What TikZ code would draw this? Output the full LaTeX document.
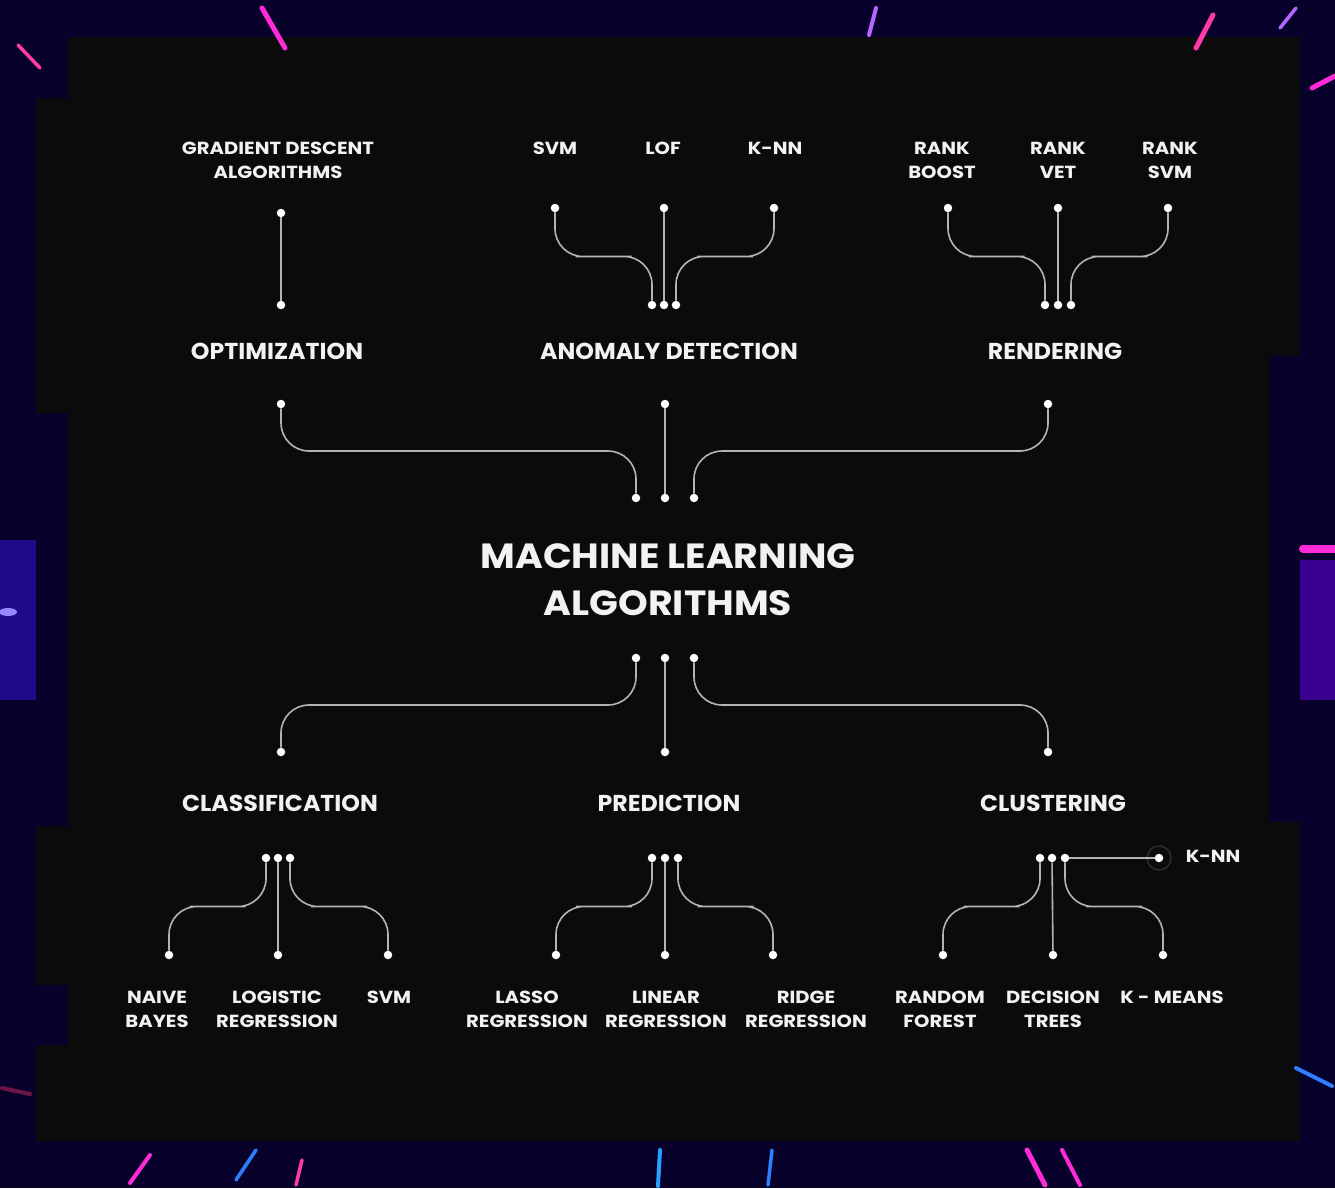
\documentclass[tikz,border=0pt]{standalone}
\usepackage{fontspec}
\setmainfont{Poppins}
\newfontfamily\widefont{Poppins}[FakeStretch=1.12]
\newfontfamily\secfont{Poppins}[FakeStretch=1.03]
\newfontfamily\titlefont{Poppins}[FakeStretch=1.08]
\usetikzlibrary{calc}
\definecolor{navy}{HTML}{08012B}
\definecolor{panel}{HTML}{0B0B0B}
\definecolor{linec}{HTML}{B4B4B4}
\definecolor{txt}{HTML}{F2F2F2}
\definecolor{mag}{HTML}{FF2AD8}
\definecolor{vio}{HTML}{B466FF}
\definecolor{pnk}{HTML}{FF3AA8}
\definecolor{blu}{HTML}{2A80FF}
\definecolor{cya}{HTML}{28A0FF}
\definecolor{bluepatch}{HTML}{1F0A8A}
\definecolor{bluespot}{HTML}{9687FF}
\definecolor{purppatch}{HTML}{3A0090}
\definecolor{dimpink}{HTML}{6E1446}
\definecolor{ring}{HTML}{2D2D2D}
\tikzset{
  dot/.style={circle, fill=white, inner sep=0pt, minimum size=8.5pt},
  conn/.style={draw=linec, line width=1.6pt, rounded corners=28pt},
  straight/.style={draw=linec, line width=1.6pt},
  small/.style={anchor=north, inner sep=0pt, text=txt, align=center, font=\widefont\fontsize{17.5}{24}\selectfont\bfseries},
  section/.style={anchor=north, inner sep=0pt, text=txt, font=\secfont\fontsize{23}{28}\selectfont\bfseries},
  titlef/.style={anchor=north, inner sep=0pt, text=txt, align=center, font=\titlefont\fontsize{35}{47}\selectfont\bfseries},
  streak/.style={line width=5pt, line cap=round}
}
\begin{document}
\begin{tikzpicture}[x=1pt, y=-1pt]
\useasboundingbox (0,0) rectangle (1335,1188);
% frame and panel
\fill[navy] (0,0) rectangle (1335,1188);
\fill[panel] (36,37) rectangle (1300,1141);
\fill[navy] (36,413) rectangle (68,826);
\fill[navy] (36,985) rectangle (68,1045);
\fill[navy] (1270,356) rectangle (1300,822);
\fill[navy] (36,37) rectangle (68,98);
% border accents
\fill[bluepatch] (0,540) rectangle (36,700);
\fill[bluespot] (8,612) ellipse (9pt and 4pt);
\fill[purppatch] (1300,560) rectangle (1335,700);
\draw[streak, mag] (262,8) -- (285,48);
\draw[streak, vio, line width=4pt] (876,8) -- (869,35);
\draw[streak, pnk] (1213,15) -- (1196,48);
\draw[streak, vio, line width=3.5pt] (1296,8) -- (1280,28);
\draw[streak, mag] (1312,88) -- (1335,76);
\draw[streak, mag, line width=8pt] (1303,549) -- (1335,549);
\draw[streak, pnk, line width=3.5pt] (18,45) -- (40,68);
\draw[streak, dimpink, line width=4pt] (2,1088) -- (30,1094);
\draw[streak, mag, line width=4pt] (130,1183) -- (150,1155);
\draw[streak, blu, line width=3.5pt] (236,1180) -- (256,1150);
\draw[streak, pnk, line width=3.5pt] (296,1185) -- (302,1160);
\draw[streak, cya, line width=4pt] (658,1186) -- (660,1150);
\draw[streak, blu, line width=3.5pt] (768,1185) -- (772,1150);
\draw[streak, mag, line width=5pt] (1027,1150) -- (1045,1185);
\draw[streak, mag, line width=4pt] (1062,1150) -- (1080,1185);
\draw[streak, blu, line width=4pt] (1296,1068) -- (1332,1086);

% ---------- dots ----------
% optimization
\node[dot] (gd1) at (281,213) {};
\node[dot] (gd2) at (281,305) {};
% anomaly detection
\node[dot] (adsvm) at (555,208) {};
\node[dot] (adlof) at (664,208) {};
\node[dot] (adknn) at (774,208) {};
\node[dot] (ad1) at (652,305) {};
\node[dot] (ad2) at (664,305) {};
\node[dot] (ad3) at (676,305) {};
% rendering
\node[dot] (rdb) at (948,208) {};
\node[dot] (rdv) at (1058,208) {};
\node[dot] (rds) at (1168,208) {};
\node[dot] (rd1) at (1045,305) {};
\node[dot] (rd2) at (1058,305) {};
\node[dot] (rd3) at (1071,305) {};
% middle
\node[dot] (mopt) at (281,404) {};
\node[dot] (mad) at (665,404) {};
\node[dot] (mrd) at (1048,404) {};
\node[dot] (t1) at (636,498) {};
\node[dot] (t2) at (665,498) {};
\node[dot] (t3) at (694,498) {};
\node[dot] (b1) at (636,658) {};
\node[dot] (b2) at (665,658) {};
\node[dot] (b3) at (694,658) {};
\node[dot] (mcl) at (281,752) {};
\node[dot] (mpr) at (665,752) {};
\node[dot] (mcu) at (1048,752) {};
% classification
\node[dot] (c1) at (266,858) {};
\node[dot] (c2) at (278,858) {};
\node[dot] (c3) at (290,858) {};
\node[dot] (clnb) at (169,955) {};
\node[dot] (cllr) at (278,955) {};
\node[dot] (clsvm) at (388,955) {};
% prediction
\node[dot] (p1) at (652,858) {};
\node[dot] (p2) at (665,858) {};
\node[dot] (p3) at (678,858) {};
\node[dot] (prla) at (556,955) {};
\node[dot] (prli) at (665,955) {};
\node[dot] (prri) at (773,955) {};
% clustering
\node[dot] (u1) at (1040,858) {};
\node[dot] (u2) at (1052,858) {};
\node[dot] (u3) at (1065,858) {};
\node[dot] (knn) at (1159,858) {};
\draw[ring, line width=1.5pt] (knn) circle (12pt);
\node[dot] (curf) at (943,955) {};
\node[dot] (cudt) at (1053,955) {};
\node[dot] (cukm) at (1163,955) {};

% ---------- connectors ----------
\draw[straight] (gd1) -- (gd2);
\draw[straight] (adlof) -- (ad2);
\draw[conn] (adsvm) |- ($(adsvm)!0.5!(ad1)$) -| (ad1);
\draw[conn] (adknn) |- ($(adknn)!0.5!(ad3)$) -| (ad3);
\draw[straight] (rdv) -- (rd2);
\draw[conn] (rdb) |- ($(rdb)!0.5!(rd1)$) -| (rd1);
\draw[conn] (rds) |- ($(rds)!0.5!(rd3)$) -| (rd3);
\draw[straight] (mad) -- (t2);
\draw[conn] (mopt) |- ($(mopt)!0.5!(t1)$) -| (t1);
\draw[conn] (mrd) |- ($(mrd)!0.5!(t3)$) -| (t3);
\draw[straight] (b2) -- (mpr);
\draw[conn] (b1) |- ($(b1)!0.5!(mcl)$) -| (mcl);
\draw[conn] (b3) |- ($(b3)!0.5!(mcu)$) -| (mcu);
\draw[straight] (c2) -- (cllr);
\draw[conn] (c1) |- ($(c1)!0.5!(clnb)$) -| (clnb);
\draw[conn] (c3) |- ($(c3)!0.5!(clsvm)$) -| (clsvm);
\draw[straight] (p2) -- (prli);
\draw[conn] (p1) |- ($(p1)!0.5!(prla)$) -| (prla);
\draw[conn] (p3) |- ($(p3)!0.5!(prri)$) -| (prri);
\draw[straight] (u2) -- (cudt);
\draw[conn] (u1) |- ($(u1)!0.5!(curf)$) -| (curf);
\draw[conn] (u3) |- ($(u3)!0.5!(cukm)$) -| (cukm);
\draw[straight] (u3) -- (knn);

% ---------- labels ----------
\node[small] (lgd) at (278,142) {GRADIENT DESCENT\\ALGORITHMS};
\node[small] (lsvm) at (555,142) {SVM};
\node[small] (llof) at (663,142) {LOF};
\node[small] (lknn) at (775,142) {K-NN};
\node[small] (lrb) at (942,142) {RANK\\BOOST};
\node[small] (lrv) at (1058,142) {RANK\\VET};
\node[small] (lrs) at (1170,142) {RANK\\SVM};
\node[section] (lopt) at (277,343) {OPTIMIZATION};
\node[section] (lad) at (669,343) {ANOMALY DETECTION};
\node[section] (lrd) at (1055,343) {RENDERING};
\node[titlef] (title) at (668,543) {MACHINE LEARNING\\ALGORITHMS};
\node[section] (lcl) at (280,795) {CLASSIFICATION};
\node[section] (lpr) at (669,795) {PREDICTION};
\node[section] (lcu) at (1053,795) {CLUSTERING};
\node[small] (lknn2) at (1213,850) {K-NN};
\node[small] (lnb) at (157,991) {NAIVE\\BAYES};
\node[small] (llr) at (277,991) {LOGISTIC\\REGRESSION};
\node[small] (lsvm2) at (389,991) {SVM};
\node[small] (lla) at (527,991) {LASSO\\REGRESSION};
\node[small] (lli) at (666,991) {LINEAR\\REGRESSION};
\node[small] (lri) at (806,991) {RIDGE\\REGRESSION};
\node[small] (lrf) at (940,991) {RANDOM\\FOREST};
\node[small] (ldt) at (1053,991) {DECISION\\TREES};
\node[small] (lkm) at (1172,991) {K - MEANS};
\end{tikzpicture}
\end{document}
